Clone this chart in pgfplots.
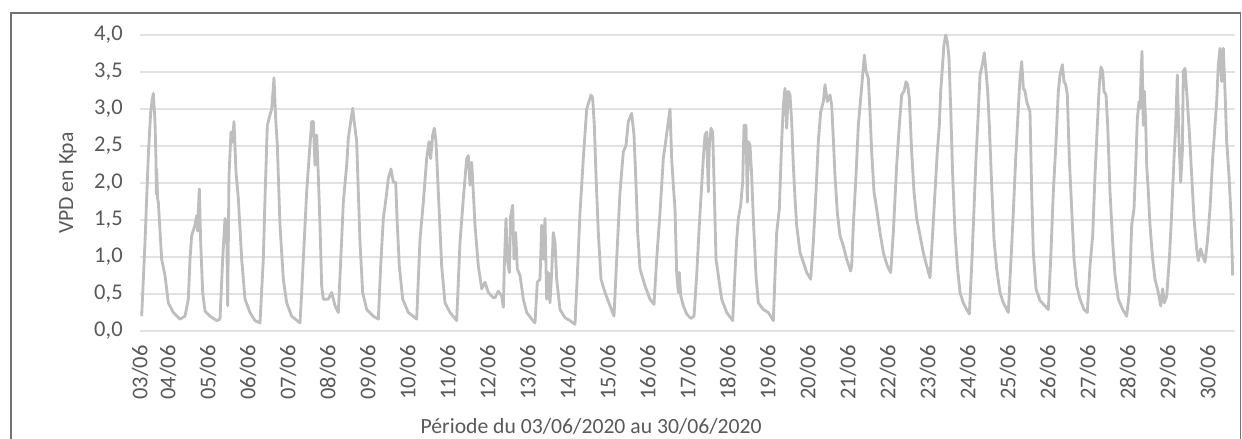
\documentclass[border=0pt]{standalone}
\usepackage{fontspec}
\setmainfont{Carlito}
\usepackage{pgfplots}
\pgfplotsset{compat=1.18}
\definecolor{vpdline}{RGB}{190,190,190}
\definecolor{gridc}{RGB}{226,226,226}
\definecolor{labc}{RGB}{89,89,89}

% VPD readings, x = days since 03/06 00:00
\begin{document}
\begin{tikzpicture}
\path[use as bounding box] (0pt,0pt) rectangle (745.2pt,262.8pt);
\draw[color=labc!85, line width=0.8pt] (6.6pt,-20pt) rectangle (744.3pt,255pt);
\begin{axis}[
  at={(84pt,64.2pt)}, anchor=south west,
  scale only axis, width=657pt, height=177.6pt,
  xmin=0.3, xmax=27.675, ymin=0, ymax=4,
  clip=false,
  axis line style={draw=none},
  major tick length=0pt,
  ymajorgrids, grid style={gridc, line width=0.9pt},
  ytick={0,0.5,1,1.5,2,2.5,3,3.5,4},
  yticklabel style={/pgf/number format/.cd, use comma, fixed, fixed zerofill, precision=1, assume math mode=true},
  tick label style={font=\fontsize{13.5}{15}\selectfont, color=labc, inner sep=0pt},
  xtick={0.3,1,2,3,4,5,6,7,8,9,10,11,12,13,14,15,16,17,18,19,20,21,22,23,24,25,26,27},
  xticklabels={03/06,04/06,05/06,06/06,07/06,08/06,09/06,10/06,11/06,12/06,13/06,14/06,15/06,16/06,17/06,18/06,19/06,20/06,21/06,22/06,23/06,24/06,25/06,26/06,27/06,28/06,29/06,30/06},
  xticklabel style={rotate=90, anchor=east},
  xticklabel shift=8.4pt, yticklabel shift=10.2pt,
  xlabel={Période du 03/06/2020 au 30/06/2020},
  xlabel style={at={(axis description cs:0.412,-0.345)}, anchor=base, font=\fontsize{13}{15}\selectfont, color=labc},
  ylabel={VPD en Kpa},
  ylabel style={at={(axis description cs:-0.0658,0.5)}, anchor=center, font=\fontsize{13}{15}\selectfont, color=labc},
]
\addplot[vpdline, line width=1.7pt, line join=round, mark=none] table {
0.342 0.20
0.425 1.20
0.508 2.37
0.567 2.96
0.600 3.10
0.633 3.21
0.675 2.83
0.700 2.30
0.710 1.85
0.717 2.19
0.740 1.79
0.758 1.74
0.842 0.97
0.925 0.75
1.008 0.38
1.133 0.25
1.300 0.16
1.425 0.20
1.508 0.43
1.550 0.97
1.592 1.29
1.675 1.43
1.717 1.56
1.740 1.35
1.760 1.65
1.783 1.92
1.817 1.20
1.867 0.52
1.925 0.27
2.050 0.20
2.217 0.14
2.300 0.16
2.367 0.97
2.425 1.52
2.467 1.43
2.492 0.34
2.525 2.10
2.575 2.69
2.610 2.55
2.650 2.83
2.700 2.15
2.758 1.79
2.842 0.97
2.925 0.43
3.050 0.25
3.175 0.14
3.300 0.11
3.383 0.97
3.425 1.79
3.483 2.78
3.550 2.92
3.592 3.00
3.650 3.42
3.692 2.87
3.733 2.51
3.800 1.43
3.883 0.70
3.967 0.38
4.092 0.20
4.300 0.11
4.342 0.52
4.383 0.97
4.467 1.88
4.525 2.33
4.592 2.83
4.633 2.83
4.675 2.24
4.717 2.65
4.758 2.10
4.800 1.43
4.842 0.61
4.883 0.43
5.008 0.43
5.092 0.52
5.175 0.34
5.258 0.25
5.342 1.24
5.383 1.74
5.467 2.24
5.508 2.60
5.567 2.83
5.617 3.01
5.675 2.74
5.717 2.56
5.758 1.88
5.800 1.20
5.867 0.52
5.967 0.29
6.133 0.20
6.258 0.16
6.317 0.88
6.383 1.52
6.450 1.79
6.508 2.06
6.575 2.19
6.633 2.01
6.692 2.01
6.733 1.43
6.783 0.88
6.867 0.43
7.008 0.25
7.217 0.16
7.300 1.24
7.383 1.74
7.467 2.33
7.525 2.56
7.567 2.33
7.617 2.65
7.658 2.74
7.700 2.56
7.758 1.88
7.842 0.88
7.925 0.38
8.050 0.25
8.217 0.14
8.300 1.20
8.383 1.79
8.467 2.33
8.508 2.37
8.550 1.97
8.592 2.28
8.633 1.88
8.675 1.43
8.758 0.88
8.842 0.57
8.925 0.66
9.008 0.52
9.133 0.45
9.175 0.45
9.258 0.54
9.342 0.47
9.383 0.32
9.408 0.88
9.450 1.52
9.483 0.97
9.533 0.79
9.567 1.56
9.617 1.70
9.650 0.97
9.692 1.33
9.733 0.84
9.800 0.75
9.883 0.43
9.967 0.25
10.092 0.16
10.175 0.11
10.233 0.66
10.300 0.70
10.342 1.43
10.383 0.97
10.425 1.52
10.467 0.43
10.508 0.79
10.550 0.38
10.592 0.79
10.633 1.33
10.675 1.20
10.717 0.70
10.800 0.29
10.925 0.18
11.050 0.14
11.175 0.09
11.233 0.75
11.300 1.60
11.383 2.33
11.467 3.00
11.525 3.10
11.575 3.19
11.617 3.15
11.658 2.78
11.700 2.10
11.758 1.33
11.825 0.70
11.925 0.52
12.050 0.34
12.150 0.20
12.217 0.97
12.300 1.88
12.383 2.42
12.450 2.51
12.508 2.83
12.592 2.94
12.650 2.65
12.692 2.10
12.742 1.33
12.800 0.84
12.925 0.61
13.050 0.43
13.150 0.36
13.217 0.97
13.300 1.60
13.383 2.33
13.442 2.56
13.508 2.83
13.550 3.00
13.592 2.33
13.633 1.97
13.675 1.65
13.717 0.79
13.758 0.52
13.783 0.79
13.817 0.48
13.883 0.34
13.967 0.23
14.067 0.17
14.150 0.20
14.217 0.75
14.283 1.43
14.342 1.97
14.383 2.33
14.425 2.65
14.467 2.69
14.508 1.88
14.533 2.51
14.575 2.74
14.617 2.69
14.658 1.88
14.700 0.97
14.758 0.75
14.842 0.43
14.967 0.25
15.117 0.14
15.175 0.79
15.217 1.24
15.258 1.52
15.317 1.70
15.367 2.01
15.400 2.78
15.450 2.78
15.483 1.74
15.508 2.56
15.550 2.51
15.592 2.10
15.633 1.52
15.700 0.75
15.758 0.38
15.883 0.29
16.008 0.25
16.133 0.14
16.175 0.75
16.217 1.33
16.283 1.65
16.342 2.56
16.383 3.05
16.425 3.28
16.467 2.74
16.508 3.24
16.550 3.19
16.592 2.83
16.633 2.24
16.675 1.79
16.717 1.43
16.800 1.06
16.883 0.93
16.967 0.79
17.067 0.70
17.133 1.20
17.200 1.88
17.258 2.56
17.317 2.96
17.383 3.10
17.425 3.33
17.483 3.10
17.550 3.19
17.592 3.05
17.633 2.60
17.675 2.10
17.733 1.60
17.800 1.29
17.883 1.15
17.967 0.97
18.067 0.81
18.092 0.88
18.133 1.43
18.200 2.10
18.258 2.78
18.317 3.14
18.367 3.46
18.408 3.73
18.450 3.51
18.508 3.42
18.550 2.96
18.592 2.42
18.650 1.88
18.717 1.65
18.800 1.33
18.883 1.06
18.983 0.88
19.067 0.79
19.133 1.33
19.217 2.24
19.283 2.78
19.342 3.19
19.400 3.24
19.450 3.37
19.492 3.33
19.533 3.14
19.592 2.42
19.650 1.88
19.717 1.52
19.800 1.29
19.883 1.06
19.967 0.88
20.050 0.72
20.117 1.33
20.175 1.88
20.233 2.42
20.283 2.78
20.317 3.24
20.358 3.55
20.400 3.87
20.442 4.00
20.483 3.91
20.525 3.69
20.567 3.01
20.617 2.10
20.675 1.33
20.733 0.88
20.800 0.52
20.883 0.38
20.967 0.29
21.033 0.23
21.092 0.88
21.150 1.65
21.200 2.33
21.258 2.96
21.300 3.46
21.358 3.60
21.408 3.76
21.450 3.51
21.492 3.24
21.533 2.78
21.592 1.97
21.650 1.24
21.717 0.84
21.800 0.52
21.883 0.38
22.008 0.25
22.067 0.88
22.133 1.60
22.192 2.33
22.258 3.01
22.300 3.42
22.342 3.64
22.383 3.28
22.425 3.24
22.467 3.10
22.550 2.96
22.592 1.88
22.633 1.06
22.700 0.57
22.800 0.41
22.925 0.34
23.008 0.29
23.067 0.97
23.133 1.88
23.200 2.56
23.258 3.24
23.300 3.46
23.358 3.60
23.400 3.37
23.442 3.33
23.483 3.19
23.533 2.33
23.592 1.65
23.650 0.97
23.717 0.61
23.800 0.43
23.900 0.29
23.983 0.25
24.050 0.88
24.117 1.29
24.175 2.10
24.233 2.78
24.283 3.33
24.325 3.57
24.367 3.51
24.400 3.24
24.450 3.19
24.492 2.78
24.550 1.88
24.617 1.20
24.675 0.75
24.758 0.43
24.867 0.29
24.967 0.20
25.033 0.52
25.092 1.43
25.150 1.65
25.200 2.33
25.233 2.87
25.275 3.10
25.300 3.01
25.325 3.46
25.350 3.78
25.383 2.78
25.408 3.24
25.442 2.83
25.467 2.24
25.508 1.88
25.550 1.43
25.617 0.97
25.675 0.70
25.758 0.52
25.817 0.34
25.867 0.57
25.908 0.38
25.967 0.47
26.033 0.97
26.092 1.60
26.150 2.33
26.192 2.78
26.233 3.46
26.275 2.56
26.317 2.01
26.358 2.42
26.383 3.51
26.425 3.55
26.467 3.24
26.533 2.69
26.592 2.10
26.650 1.52
26.717 1.11
26.758 0.95
26.817 1.11
26.867 1.02
26.925 0.93
26.983 1.20
27.050 1.65
27.117 2.33
27.175 2.78
27.217 3.10
27.258 3.60
27.300 3.82
27.342 3.37
27.383 3.82
27.425 3.24
27.467 2.56
27.525 2.10
27.575 1.56
27.617 0.75
};
\end{axis}
\end{tikzpicture}
\end{document}
